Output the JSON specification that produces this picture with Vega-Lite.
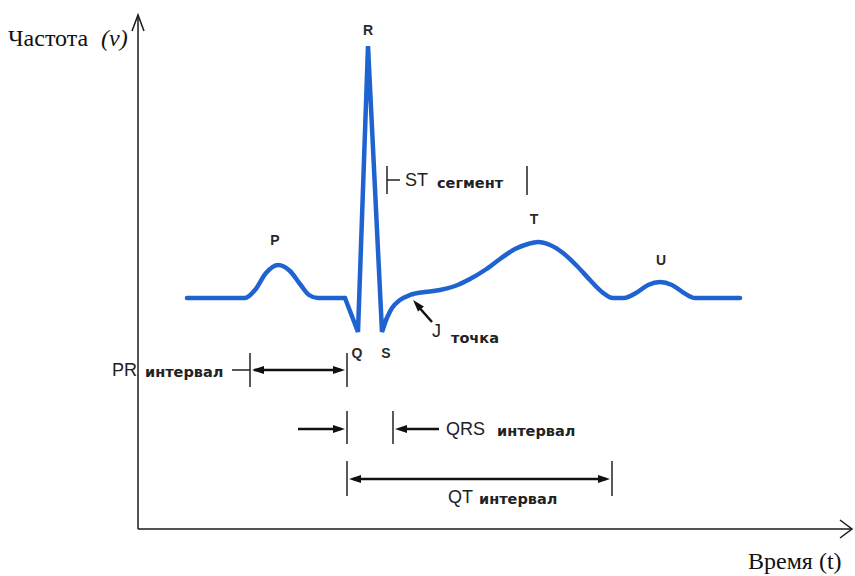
{
  "$schema": "https://vega.github.io/schema/vega-lite/v6.json",
  "width": 855,
  "height": 576,
  "padding": 0,
  "autosize": {"type": "none"},
  "background": "white",
  "config": {"view": {"stroke": null}},
  "datasets": {
    "waveP": [
      {"t": 187, "v": 298}, {"t": 245, "v": 298}, {"t": 255, "v": 290}, {"t": 266, "v": 273},
      {"t": 278, "v": 265}, {"t": 290, "v": 271}, {"t": 300, "v": 284}, {"t": 309, "v": 295},
      {"t": 318, "v": 298}, {"t": 345, "v": 298}
    ],
    "waveQRS": [
      {"t": 345, "v": 298}, {"t": 358, "v": 332}, {"t": 368, "v": 46}, {"t": 382, "v": 332}, {"t": 386, "v": 320}
    ],
    "waveT": [
      {"t": 386, "v": 320}, {"t": 392, "v": 308}, {"t": 400, "v": 300}, {"t": 410, "v": 295},
      {"t": 425, "v": 292}, {"t": 440, "v": 290}, {"t": 455, "v": 286}, {"t": 470, "v": 279},
      {"t": 485, "v": 270}, {"t": 500, "v": 259}, {"t": 515, "v": 249}, {"t": 528, "v": 244},
      {"t": 538, "v": 242}, {"t": 550, "v": 245}, {"t": 563, "v": 253}, {"t": 577, "v": 266},
      {"t": 590, "v": 280}, {"t": 602, "v": 292}, {"t": 613, "v": 298}, {"t": 624, "v": 298},
      {"t": 636, "v": 293}, {"t": 648, "v": 285}, {"t": 660, "v": 282}, {"t": 672, "v": 285},
      {"t": 684, "v": 293}, {"t": 695, "v": 298}, {"t": 740, "v": 298}
    ],
    "axes": [
      {"x": 138, "y": 15, "x2": 138, "y2": 529},
      {"x": 138, "y": 529, "x2": 852, "y2": 529}
    ],
    "chevrons": [
      {"g": "top", "o": 1, "x": 132, "y": 31}, {"g": "top", "o": 2, "x": 138, "y": 15}, {"g": "top", "o": 3, "x": 144, "y": 31},
      {"g": "right", "o": 1, "x": 840, "y": 520}, {"g": "right", "o": 2, "x": 852, "y": 529}, {"g": "right", "o": 3, "x": 840, "y": 538}
    ],
    "ticks": [
      {"x": 387, "y": 166, "x2": 387, "y2": 194},
      {"x": 387, "y": 180, "x2": 400, "y2": 180},
      {"x": 527, "y": 166, "x2": 527, "y2": 195},
      {"x": 250, "y": 353, "x2": 250, "y2": 387},
      {"x": 347, "y": 353, "x2": 347, "y2": 387},
      {"x": 232, "y": 370, "x2": 250, "y2": 370},
      {"x": 347, "y": 411, "x2": 347, "y2": 444},
      {"x": 393, "y": 411, "x2": 393, "y2": 444},
      {"x": 347, "y": 461, "x2": 347, "y2": 496},
      {"x": 612, "y": 461, "x2": 612, "y2": 496}
    ],
    "shafts": [
      {"x": 254, "y": 370, "x2": 341, "y2": 370},
      {"x": 298, "y": 429, "x2": 341, "y2": 429},
      {"x": 401, "y": 429, "x2": 439, "y2": 429},
      {"x": 353, "y": 479, "x2": 606, "y2": 479},
      {"x": 417, "y": 305, "x2": 432, "y2": 322}
    ],
    "heads": [
      {"x": 258, "y": 370, "a": 270},
      {"x": 339, "y": 370, "a": 90},
      {"x": 339, "y": 429, "a": 90},
      {"x": 401, "y": 429, "a": 270},
      {"x": 355, "y": 479, "a": 270},
      {"x": 604, "y": 479, "a": 90},
      {"x": 417, "y": 304.5, "a": 319}
    ],
    "letters": [
      {"x": 368, "y": 31, "s": "R"},
      {"x": 275, "y": 241, "s": "P"},
      {"x": 534, "y": 220, "s": "T"},
      {"x": 661, "y": 261, "s": "U"},
      {"x": 357, "y": 354, "s": "Q"},
      {"x": 386, "y": 354, "s": "S"}
    ],
    "big": [
      {"x": 405, "y": 181, "s": "ST"},
      {"x": 432, "y": 332, "s": "J"},
      {"x": 112, "y": 371, "s": "PR"},
      {"x": 446, "y": 430, "s": "QRS"},
      {"x": 448, "y": 498, "s": "QT"}
    ],
    "small": [
      {"x": 437, "y": 184, "s": "сегмент"},
      {"x": 451, "y": 339, "s": "точка"},
      {"x": 145, "y": 373, "s": "интервал"},
      {"x": 497, "y": 432, "s": "интервал"},
      {"x": 479, "y": 500, "s": "интервал"}
    ],
    "serif": [
      {"x": 8, "y": 39, "s": "Частота"},
      {"x": 748, "y": 562, "s": "Время (t)"}
    ],
    "serifItalic": [
      {"x": 101, "y": 39, "s": "(ν)"}
    ]
  },
  "encoding": {
    "x": {"type": "quantitative", "scale": {"domain": [0, 855], "nice": false, "zero": false}, "axis": null},
    "y": {"type": "quantitative", "scale": {"domain": [0, 576], "nice": false, "zero": false, "reverse": true}, "axis": null}
  },
  "layer": [
    {
      "data": {"name": "axes"},
      "mark": {"type": "rule", "color": "#1a1a1a", "strokeWidth": 1.5},
      "encoding": {"x": {"field": "x"}, "y": {"field": "y"}, "x2": {"field": "x2"}, "y2": {"field": "y2"}}
    },
    {
      "data": {"name": "chevrons"},
      "mark": {"type": "line", "color": "#1a1a1a", "strokeWidth": 1.5},
      "encoding": {"x": {"field": "x"}, "y": {"field": "y"}, "detail": {"field": "g"}, "order": {"field": "o"}}
    },
    {
      "data": {"name": "waveP"},
      "mark": {"type": "line", "color": "#1f63d0", "strokeWidth": 4.5, "strokeJoin": "round", "strokeCap": "round", "interpolate": "monotone"},
      "encoding": {"x": {"field": "t"}, "y": {"field": "v"}, "order": {"field": "t"}}
    },
    {
      "data": {"name": "waveQRS"},
      "mark": {"type": "line", "color": "#1f63d0", "strokeWidth": 4.5, "strokeJoin": "miter", "strokeCap": "round"},
      "encoding": {"x": {"field": "t"}, "y": {"field": "v"}, "order": {"field": "t"}}
    },
    {
      "data": {"name": "waveT"},
      "mark": {"type": "line", "color": "#1f63d0", "strokeWidth": 4.5, "strokeJoin": "round", "strokeCap": "round", "interpolate": "monotone"},
      "encoding": {"x": {"field": "t"}, "y": {"field": "v"}, "order": {"field": "t"}}
    },
    {
      "data": {"name": "ticks"},
      "mark": {"type": "rule", "color": "#222222", "strokeWidth": 1.5},
      "encoding": {"x": {"field": "x"}, "y": {"field": "y"}, "x2": {"field": "x2"}, "y2": {"field": "y2"}}
    },
    {
      "data": {"name": "shafts"},
      "mark": {"type": "rule", "color": "#111111", "strokeWidth": 2.5},
      "encoding": {"x": {"field": "x"}, "y": {"field": "y"}, "x2": {"field": "x2"}, "y2": {"field": "y2"}}
    },
    {
      "data": {"name": "heads"},
      "mark": {"type": "point", "shape": "M0,-1L0.65,1L-0.65,1Z", "filled": true, "color": "#111111", "size": 144, "opacity": 1},
      "encoding": {"x": {"field": "x"}, "y": {"field": "y"}, "angle": {"field": "a", "type": "quantitative", "scale": null}}
    },
    {
      "data": {"name": "letters"},
      "mark": {"type": "text", "font": "Liberation Sans", "fontSize": 14, "fontWeight": "bold", "color": "#2a2a2a", "align": "center", "baseline": "middle"},
      "encoding": {"x": {"field": "x"}, "y": {"field": "y"}, "text": {"field": "s"}}
    },
    {
      "data": {"name": "big"},
      "mark": {"type": "text", "font": "Liberation Sans", "fontSize": 18, "color": "#222222", "align": "left", "baseline": "middle"},
      "encoding": {"x": {"field": "x"}, "y": {"field": "y"}, "text": {"field": "s"}}
    },
    {
      "data": {"name": "small"},
      "mark": {"type": "text", "font": "DejaVu Sans", "fontSize": 14.5, "fontWeight": "bold", "color": "#222222", "align": "left", "baseline": "middle"},
      "encoding": {"x": {"field": "x"}, "y": {"field": "y"}, "text": {"field": "s"}}
    },
    {
      "data": {"name": "serif"},
      "mark": {"type": "text", "font": "Liberation Serif", "fontSize": 24, "color": "#111111", "align": "left", "baseline": "middle"},
      "encoding": {"x": {"field": "x"}, "y": {"field": "y"}, "text": {"field": "s"}}
    },
    {
      "data": {"name": "serifItalic"},
      "mark": {"type": "text", "font": "Liberation Serif", "fontSize": 24, "fontStyle": "italic", "color": "#111111", "align": "left", "baseline": "middle"},
      "encoding": {"x": {"field": "x"}, "y": {"field": "y"}, "text": {"field": "s"}}
    }
  ]
}
